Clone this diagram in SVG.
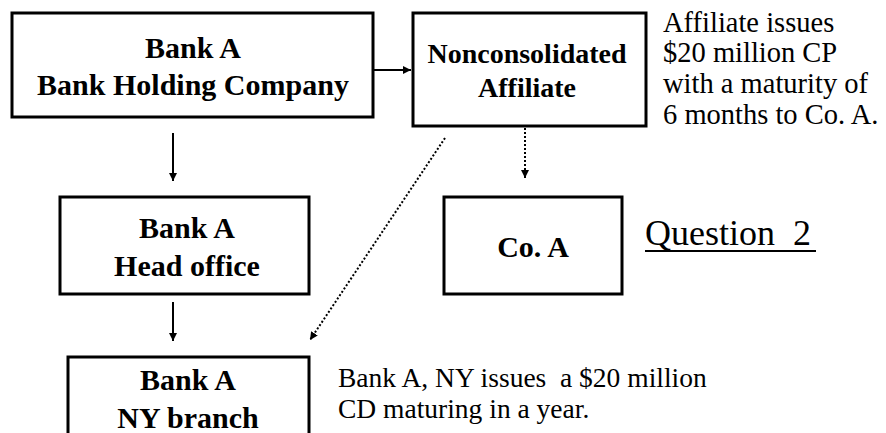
<svg xmlns="http://www.w3.org/2000/svg" width="886" height="433" viewBox="0 0 886 433">
<style>
.box{fill:#fff;stroke:#000;stroke-width:3}
.b{font-family:'Liberation Serif','Times New Roman',serif;font-weight:bold;text-anchor:middle;fill:#000}
.r{font-family:'Liberation Serif','Times New Roman',serif;font-weight:normal;fill:#000}
.c{stroke:#000;stroke-width:2;fill:none}
.d{stroke:#000;stroke-width:2;fill:none;stroke-dasharray:2,2}
</style>
<defs>
<marker id="ah" viewBox="0 0 10 10" refX="10" refY="5" markerWidth="4" markerHeight="4" orient="auto" markerUnits="strokeWidth">
<path d="M0,0 L10,5 L0,10 z" fill="#000"/>
</marker>
</defs>
<g id="connectors">
<line class="c" x1="374" y1="70" x2="411" y2="70" marker-end="url(#ah)"/>
<line class="c" x1="173" y1="133" x2="173" y2="181" marker-end="url(#ah)"/>
<line class="c" x1="173" y1="302" x2="173" y2="341" marker-end="url(#ah)"/>
<line class="d" x1="525" y1="128" x2="525" y2="178" marker-end="url(#ah)"/>
<line class="d" x1="445" y1="138" x2="310" y2="340" marker-end="url(#ah)"/>
</g>
<g id="bhc">
<rect class="box" x="12" y="13" width="361" height="104"/>
<text class="b" x="193" y="58" font-size="30">Bank A</text>
<text class="b" x="193" y="95" font-size="30">Bank Holding Company</text>
</g>
<g id="affiliate">
<rect class="box" x="413" y="13" width="233" height="113"/>
<text class="b" x="527" y="63" font-size="28">Nonconsolidated</text>
<text class="b" x="527" y="97" font-size="28">Affiliate</text>
</g>
<g id="headoffice">
<rect class="box" x="60" y="197" width="249" height="97"/>
<text class="b" x="187" y="238" font-size="30">Bank A</text>
<text class="b" x="187" y="276" font-size="30">Head office</text>
</g>
<g id="coa">
<rect class="box" x="444" y="197" width="178" height="97"/>
<text class="b" x="533" y="257" font-size="30">Co. A</text>
</g>
<g id="nybranch">
<rect class="box" x="68" y="357" width="241" height="90"/>
<text class="b" x="188" y="390" font-size="30">Bank A</text>
<text class="b" x="188" y="428" font-size="30">NY branch</text>
</g>
<g id="notes">
<text class="r" x="663" y="32" font-size="28.5">Affiliate issues</text>
<text class="r" x="663" y="62" font-size="28.5">$20 million CP</text>
<text class="r" x="663" y="93" font-size="28.5">with a maturity of</text>
<text class="r" x="663" y="124" font-size="28.5">6 months to Co. A.</text>
<text class="r" x="338" y="387" font-size="27.5" xml:space="preserve">Bank A, NY issues  a $20 million</text>
<text class="r" x="338" y="418" font-size="27.5">CD maturing in a year.</text>
<text class="r" x="645" y="245" font-size="36" xml:space="preserve">Question  2</text>
<line x1="645" y1="251" x2="816" y2="251" stroke="#000" stroke-width="2"/>
</g>
</svg>
